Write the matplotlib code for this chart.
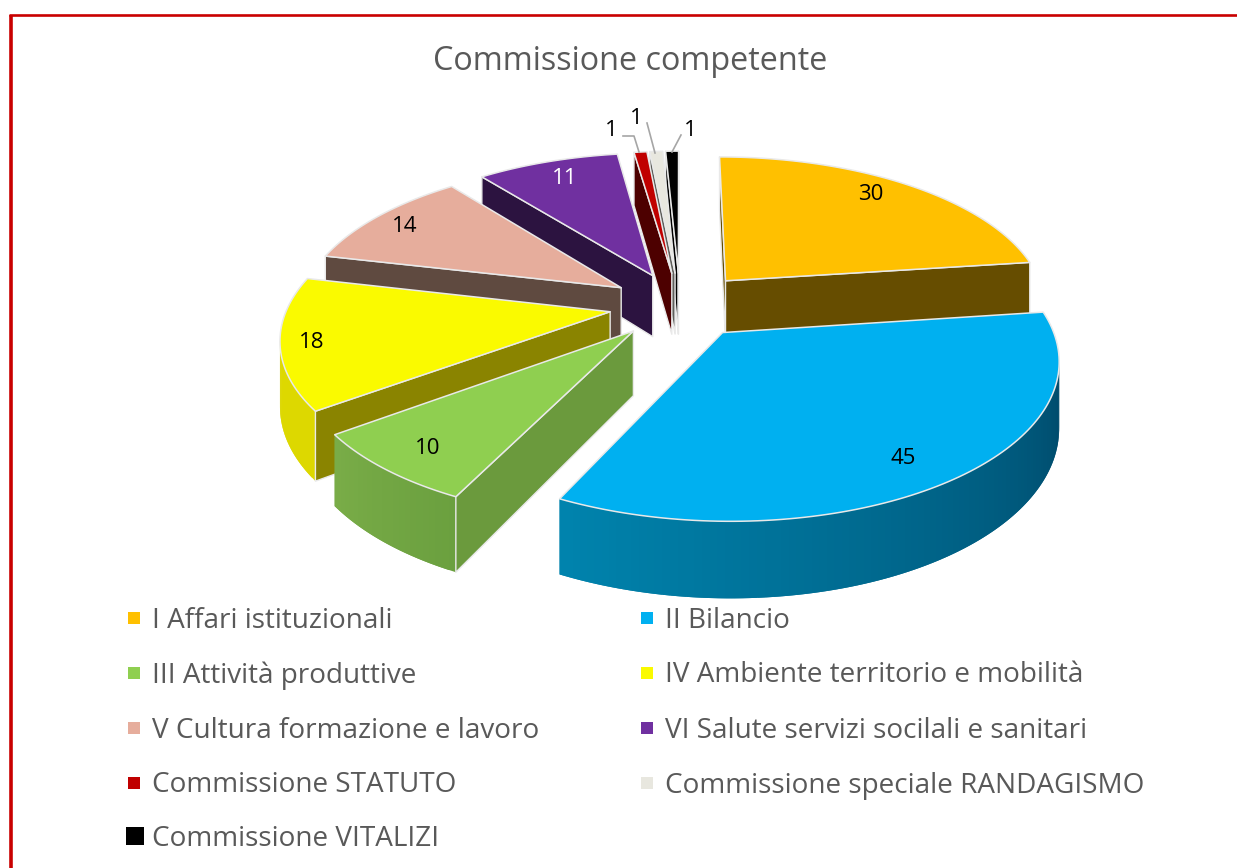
import numpy as np
import matplotlib
matplotlib.use('Agg')
import matplotlib.pyplot as plt
from matplotlib.patches import Polygon, Rectangle

title = 'Commissione competente'
categories = ['I Affari istituzionali', 'II Bilancio', 'III Attività produttive',
              'IV Ambiente territorio e mobilità', 'V Cultura formazione e lavoro',
              'VI Salute servizi socilali e sanitari', 'Commissione STATUTO',
              'Commissione speciale RANDAGISMO', 'Commissione VITALIZI']
values = [30, 45, 10, 18, 14, 11, 1, 1, 1]

top_colors = ['#FFC000', '#00B0F0', '#8FCF50', '#FAFA00', '#E6AD9C',
              '#7030A0', '#C00000', '#E8E7DF', '#000000']
edge_walls = ['#664D00', '#00506F', '#6B9A3D', '#8A8400', '#5F4A40',
              '#2C1340', '#4D0000', '#5E5E5A', '#000000']
# couleur du bord extérieur, début et fin de la tranche
arc_walls = [('#664D00', '#664D00'), ('#00405F', '#0084AE'), ('#6BA03F', '#7AAD48'),
             ('#DDD800', '#DDD800'), ('#5F4A40', '#5F4A40'), ('#2C1340', '#2C1340'),
             ('#4D0000', '#4D0000'), ('#5E5E5A', '#5E5E5A'), ('#000000', '#000000')]

# réglages de la projection (pixels)
CX, CY = 680, 305
A, B, H = 322, 150, 63
K = 0.155
EXPLODE = 0.22
EDGE = '#E9E9E9'


def project(x, y, z=0.0):
    w = 1 / (1 + K * np.asarray(y))
    return np.column_stack([CX + A * x * w, CY - B * y * w - H * z * w])


def hexmix(c1, c2, t):
    a = np.array(matplotlib.colors.to_rgb(c1))
    b = np.array(matplotlib.colors.to_rgb(c2))
    return a + (b - a) * t


def signed_area(pts):
    x, y = pts[:, 0], pts[:, 1]
    return 0.5 * np.sum(x * np.roll(y, -1) - np.roll(x, -1) * y)


fig = plt.figure(figsize=(12.37, 8.68), dpi=100)
ax = fig.add_axes([0, 0, 1, 1])
ax.set_xlim(0, 1237)
ax.set_ylim(868, 0)
ax.axis('off')
plt.rcParams['font.family'] = ['Open Sans', 'DejaVu Sans']

# cadre rouge
ax.plot([10.5, 10.5], [868, 15], color='#C90000', lw=2.6, solid_capstyle='butt')
ax.plot([9, 1237], [15, 15], color='#C90000', lw=1.9, solid_capstyle='butt')

ax.text(630, 62, title, ha='center', va='center', fontsize=23.3, color='#595959')

# angles des tranches, sens horaire depuis le haut
fractions = np.array(values) / sum(values)
bounds = np.concatenate([[0], np.cumsum(fractions)]) * 2 * np.pi
mids = (bounds[:-1] + bounds[1:]) / 2

# du fond vers l'avant
order = np.argsort(-np.cos(mids))
for i in order:
    t0, t1 = bounds[i], bounds[i + 1]
    ox, oy = EXPLODE * np.sin(mids[i]), EXPLODE * np.cos(mids[i])
    n = max(int((t1 - t0) / 0.02), 2)
    th = np.linspace(t0, t1, n + 1)
    ax_x = ox + np.sin(th)
    ax_y = oy + np.cos(th)

    top_arc = project(ax_x, ax_y, 0)
    bot_arc = project(ax_x, ax_y, -1)
    apex_top = project(np.array([ox]), np.array([oy]), 0)
    apex_bot = project(np.array([ox]), np.array([oy]), -1)
    outline = np.vstack([apex_top, top_arc])
    orient = np.sign(signed_area(outline))

    # paroi extérieure, les segments se chevauchent pour éviter les rayures
    for j in range(n):
        quad = np.vstack([top_arc[j], top_arc[j + 1], bot_arc[j + 1], bot_arc[j]])
        if np.sign(signed_area(quad)) != orient:
            k = min(j + 2, n)
            wide = np.vstack([top_arc[j], top_arc[k], bot_arc[k], bot_arc[j]])
            c = hexmix(arc_walls[i][0], arc_walls[i][1], j / n)
            ax.add_patch(Polygon(wide, closed=True, facecolor=c, edgecolor='none'))

    # parois radiales, visibles seulement si elles regardent vers l'avant
    start_wall = np.vstack([apex_top, top_arc[0], bot_arc[0], apex_bot])
    end_wall = np.vstack([top_arc[-1], apex_top, apex_bot, bot_arc[-1]])
    for wall in (start_wall, end_wall):
        if np.sign(signed_area(wall)) != orient:
            ax.add_patch(Polygon(wall, closed=True, facecolor=edge_walls[i],
                                 edgecolor=EDGE, lw=1.0, joinstyle='round'))

    ax.add_patch(Polygon(outline, closed=True, facecolor=top_colors[i],
                         edgecolor=EDGE, lw=1.1, joinstyle='round'))

# étiquettes de données
label_pos = [(871, 195), (903, 459), (428, 449), (312, 343), (405, 227),
             (565, 178), (611, 131), (636, 118), (690, 131)]
label_cols = ['black'] * 5 + ['white'] + ['black'] * 3
for v, (lx, ly), c in zip(values, label_pos, label_cols):
    ax.text(lx, ly, str(v), ha='center', va='center', fontsize=16, color=c)

# lignes de rappel
ax.plot([623, 634, 639], [136, 136, 152], color='#A6A6A6', lw=1.2)
ax.plot([647, 655], [123, 153], color='#A6A6A6', lw=1.2)
ax.plot([681, 672], [135, 152], color='#A6A6A6', lw=1.2)

# légende sur deux colonnes
leg_rows = [618, 673, 728, 783, 836]
for i, name in enumerate(categories):
    row = leg_rows[i // 2]
    x0 = 128 if i % 2 == 0 else 641
    size = 12
    if i == 8:
        x0, size = 126, 18
    ax.add_patch(Rectangle((x0, row - size / 2), size, size, facecolor=top_colors[i], edgecolor='none'))
    ax.text(x0 + (24 if i != 8 else 26), row - 1, name, ha='left', va='center_baseline',
            fontsize=20.1, color='#595959')

fig.savefig('out.png', dpi=100)
